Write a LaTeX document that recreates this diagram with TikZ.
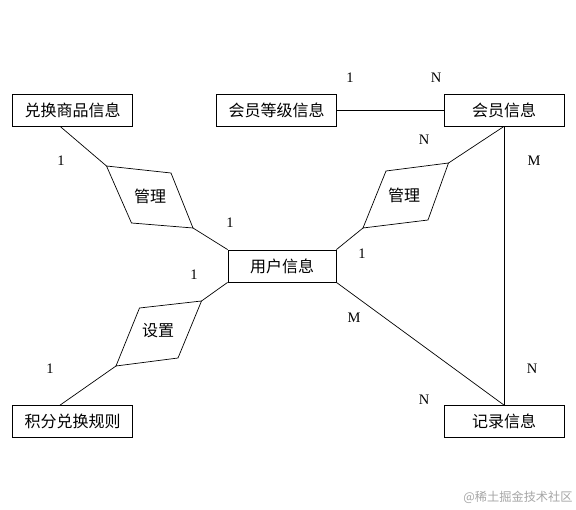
\documentclass[tikz,border=0pt]{standalone}
\usepackage{fontspec}
\newfontfamily\cjk{Noto Sans CJK SC}
\newfontfamily\numfont{Liberation Serif}
\usetikzlibrary{calc}
\begin{document}
\begin{tikzpicture}[x=1pt,y=-1pt]
\tikzset{
  box/.style={draw, line width=0.8pt, minimum width=120pt, minimum height=32pt, inner sep=0pt, font=\cjk\fontsize{16}{16}\selectfont},
  dtext/.style={inner sep=0pt, font=\cjk\fontsize{16}{16}\selectfont},
  lbl/.style={inner sep=0pt, font=\numfont\fontsize{14.5}{14.5}\selectfont},
  conn/.style={line width=0.7pt}
}
\useasboundingbox[fill=white] (0,0) rectangle (576,510);
% entity boxes
\node[box] (dh) at (72.5,110) {兑换商品信息};
\node[box] (dj) at (276.5,110) {会员等级信息};
\node[box] (hy) at (504,110) {会员信息};
\node[box, minimum width=108pt] (yh) at (282,266) {用户信息};
\node[box] (jf) at (72.5,421.5) {积分兑换规则};
\node[box] (jl) at (504,421.5) {记录信息};
% relationship shapes (skewed diamonds)
\coordinate (d1a) at (106.5,166);
\coordinate (d1b) at (171,173);
\coordinate (d1c) at (193,228);
\coordinate (d1d) at (131.5,223);
\draw[conn] (d1a) -- (d1b) -- (d1c) -- (d1d) -- cycle;
\node[dtext] (gl1) at (150,196) {管理};
\coordinate (d2a) at (386,171);
\coordinate (d2b) at (448.5,163);
\coordinate (d2c) at (428,220);
\coordinate (d2d) at (363,228);
\draw[conn] (d2a) -- (d2b) -- (d2c) -- (d2d) -- cycle;
\node[dtext] (gl2) at (404,195) {管理};
\coordinate (d3a) at (139.5,308);
\coordinate (d3b) at (201.5,301);
\coordinate (d3c) at (178,358);
\coordinate (d3d) at (116,366);
\draw[conn] (d3a) -- (d3b) -- (d3c) -- (d3d) -- cycle;
\node[dtext] (sz) at (158,331) {设置};
% connectors
\coordinate (dhs) at ($(dh.south west)+(48,0)$);
\coordinate (hys) at (hy.south);
\coordinate (jln) at (jl.north);
\coordinate (jfn) at ($(jf.north west)+(48,0)$);
\draw[conn] (dj.east) -- (hy.west);
\draw[conn] (dhs) -- (d1a);
\draw[conn] (d1c) -- (yh.north west);
\draw[conn] (hys) -- (d2b);
\draw[conn] (d2d) -- (yh.north east);
\draw[conn] (hys) -- (jln);
\draw[conn] (yh.south east) -- (jln);
\draw[conn] (yh.south west) -- (d3b);
\draw[conn] (d3d) -- (jfn);
% cardinality labels
\node[lbl] (l1) at (350,78) {1};
\node[lbl] (l2) at (436,78) {N};
\node[lbl] (l3) at (61,161) {1};
\node[lbl] (l4) at (424,140) {N};
\node[lbl] (l5) at (534,161) {M};
\node[lbl] (l6) at (230,223) {1};
\node[lbl] (l7) at (362,254) {1};
\node[lbl] (l8) at (194,275) {1};
\node[lbl] (l9) at (354,318) {M};
\node[lbl] (l10) at (50,369) {1};
\node[lbl] (l11) at (424,400) {N};
\node[lbl] (l12) at (532,369) {N};
% watermark
\node[inner sep=0pt, text=black!35, font=\cjk\fontsize{12.2}{12.2}\selectfont] (wm) at (518,497) {@稀土掘金技术社区};
\end{tikzpicture}
\end{document}
